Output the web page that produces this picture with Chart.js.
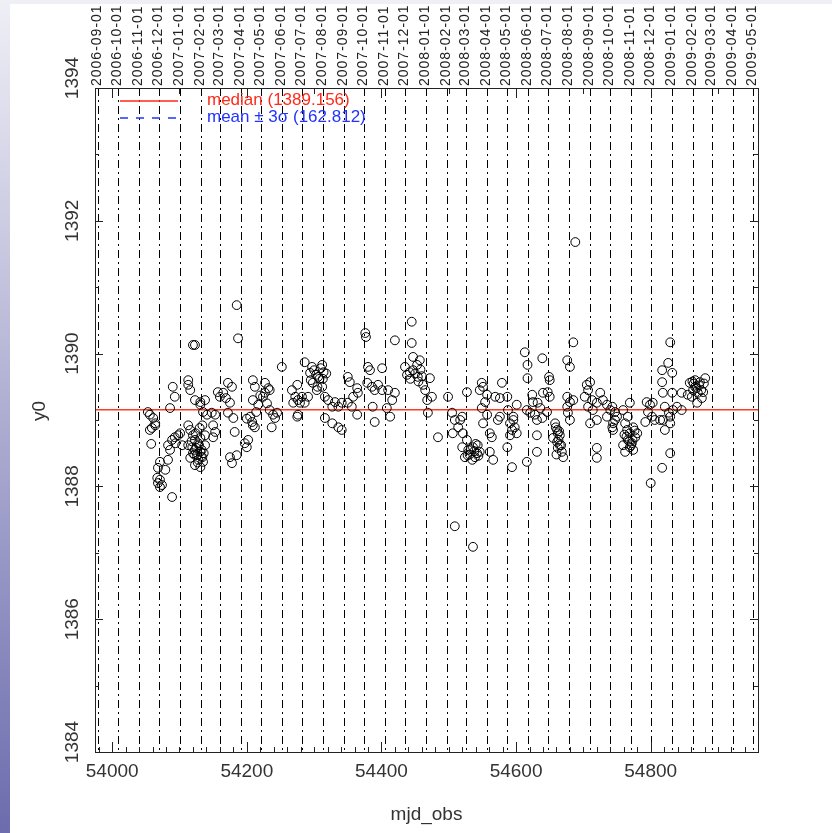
<!DOCTYPE html>
<html>
<head>
<meta charset="utf-8">
<script src="https://cdn.jsdelivr.net/npm/chart.js@4.4.1/dist/chart.umd.min.js"></script>
<style>
html, body { margin: 0; padding: 0; background: #fff; }
#wrap { position: relative; width: 832px; height: 833px; overflow: hidden; }
#strip { position: absolute; left: 0; top: 0; width: 10px; height: 833px; background: linear-gradient(#efeff6, #6c6cae); }
#band { position: absolute; left: 0; top: 0; width: 832px; height: 4px; background: #f0f0f4; }
canvas { position: absolute; left: 0; top: 0; }
</style>
</head>
<body>
<div id="wrap">
  <div id="strip"></div>
  <div id="band"></div>
  <canvas id="chart" width="832" height="833"></canvas>
</div>
<script>
/* data */
const mjdObs = [
  54056,54061,54064,54059,54056,54064,54058,54053,
  54083,54071,54068,54067,54068,54071,54074,54071,54079,54089,
  54083,54089,54093,54098,54101,54094,54104,54086,
  54090,54093,54086,54113,54113,54116,54120,54123,
  54113,54116,54120,54123,54128,54119,54123,54131,54126,54134,54116,54128,54135,54123,54131,54138,54138,54113,54120,54131,
  54125,54129,54133,54122,54127,54118,54132,54136,54124,54130,
  54123,54131,54138,54131,54135,54141,54148,54153,54134,54150,54153,54150,
  54157,54160,54165,54169,54172,54178,54175,54172,54180,54185,54187,54182,54175,54178,54185,
  54197,54200,54202,54205,54208,54209,54212,54209,54212,54209,54217,54227,54232,54227,54234,54224,54234,54239,54245,54242,54237,54252,54267,54272,54269,54276,54275,
  54200,54214,54220,54230,
  54275,54282,54279,54276,54286,54297,54312,54294,54306,54314,54298,54312,54304,54291,54286,
  54300,54303,54308,54310,54295,54318,54305,54313,
  54316,54321,54331,54336,54341,54327,54316,54327,54336,54341,
  54350,54353,54364,54358,54365,54350,54356,54364,54376,54377,
  54380,54383,54379,54386,54390,54395,54401,54387,54390,54401,54410,54416,54420,54408,54413,54420,
  54435,54442,54447,54454,54453,54457,54447,54445,54445,54462,54465,54472,54475,54468,54469,
  54438,54450,54458,54443,54455,54460,
  54499,54505,54509,54514,54520,54506,54484,54509,
  54517,54521,54527,54520,54529,54536,54542,54539,54535,54524,54543,54546,54527,
  54531,54533,54538,54544,54540,54528,
  54549,54551,54546,54557,54554,54549,54557,54551,54561,54564,54561,54566,
  54569,54576,54587,54579,54576,54573,54587,54594,54588,54596,54591,54598,54594,54591,54601,54596,54601,
  54613,54617,54617,54616,54639,54616,54621,54628,54624,54625,54632,54636,54631,54639,54646,54640,54647,54650,54631,54631,54649,54650,
  54658,54661,54662,54665,54661,54665,54668,54670,54662,54655,
  54659,54663,54667,54660,54664,
  54676,54680,54676,54677,54680,54685,54676,54680,54685,54688,
  54705,54710,54707,54702,54713,54707,54714,54720,54725,54729,54735,54740,54743,54747,54750,54744,54710,54720,54735,54744,54720,54720,54536,
  54747,54743,54759,54769,54766,54762,54765,54769,54774,54766,54772,54777,54762,54769,54774,54780,54759,
  54764,54768,54771,54776,54761,54773,
  54794,54799,54803,54796,54802,54792,54806,54800,
  54829,54826,54832,54817,54817,54818,54832,54821,54827,54818,54821,54829,54833,54839,54846,54829,54814,54829,54817,54846,
  54858,54866,54873,54881,54863,54870,54861,54876,54869,54878,54855,54866,
  54864,54868,54872,54875,54862,54879
];
const y0Values = [
  1389.08,1389.03,1388.95,1388.88,1388.85,1388.92,1388.64,1389.12,
  1388.40,1388.37,1388.28,1388.13,1388.05,1387.99,1388.02,1388.10,1388.25,1387.84,
  1388.62,1388.70,1388.74,1388.77,1388.80,1388.65,1388.62,1388.55,
  1389.50,1389.35,1389.18,1389.60,1389.53,1389.45,1390.13,1390.13,
  1388.92,1388.85,1388.77,1388.70,1388.65,1388.59,1388.55,1388.52,1388.47,1388.44,1388.43,1388.40,1388.37,1388.32,1388.29,1388.62,1388.77,1388.62,1388.50,1388.73,
  1388.58,1388.62,1388.55,1388.48,1388.36,1388.68,1388.45,1388.50,1388.80,1388.88,
  1389.30,1389.27,1389.30,1389.23,1389.12,1389.08,1389.11,1389.08,1388.92,1388.92,1388.82,1388.74,
  1389.42,1389.35,1389.41,1389.33,1389.56,1389.50,1389.26,1389.11,1389.03,1390.73,1390.23,1388.82,1388.44,1388.35,1388.47,
  1388.65,1388.59,1388.70,1389.05,1388.97,1388.92,1388.89,1389.60,1389.50,1389.30,1389.23,1389.56,1389.48,1389.41,1389.45,1389.35,1389.15,1389.08,1389.11,1389.03,1388.89,1389.80,1389.45,1389.35,1389.26,1389.30,1389.05,
  1389.02,1389.12,1389.37,1389.25,
  1389.53,1389.35,1389.26,1389.08,1389.87,1389.80,1389.83,1389.71,1389.65,1389.72,1389.56,1389.50,1389.45,1389.35,1389.26,
  1389.75,1389.68,1389.62,1389.78,1389.60,1389.70,1389.50,1389.62,
  1389.35,1389.30,1389.27,1389.20,1389.26,1389.20,1389.03,1388.95,1388.89,1388.85,
  1389.65,1389.57,1389.48,1389.35,1389.41,1389.26,1389.20,1389.08,1390.31,1390.25,
  1389.80,1389.75,1389.56,1389.50,1389.45,1389.53,1389.45,1389.20,1388.97,1389.78,1389.45,1389.30,1389.41,1389.18,1389.05,1390.20,
  1389.80,1389.72,1389.75,1389.65,1389.83,1389.90,1389.95,1390.48,1390.16,1389.53,1389.45,1389.63,1389.35,1389.30,1389.11,
  1389.68,1389.70,1389.76,1389.62,1389.58,1389.66,
  1389.35,1389.11,1389.00,1388.89,1389.05,1388.80,1388.74,1387.40,
  1389.00,1388.80,1388.70,1388.59,1388.55,1388.59,1388.50,1388.44,1388.40,1388.44,1388.62,1388.52,1389.42,
  1388.48,1388.56,1388.53,1388.46,1388.64,1388.47,
  1389.56,1389.50,1389.45,1389.38,1389.27,1389.18,1389.08,1388.95,1388.80,1388.74,1388.52,1388.40,
  1389.35,1389.33,1389.35,1389.56,1389.05,1389.00,1388.59,1388.29,1389.15,1389.05,1388.95,1388.89,1388.85,1388.77,1388.80,1389.00,1389.23,
  1390.02,1389.83,1389.63,1388.37,1389.93,1389.15,1389.11,1389.08,1389.38,1389.27,1389.26,1389.18,1389.00,1389.03,1389.12,1389.41,1389.42,1389.35,1388.77,1388.52,1389.65,1389.60,
  1388.95,1388.85,1388.80,1388.77,1388.67,1388.62,1388.52,1388.44,1388.58,1388.73,
  1388.89,1388.70,1388.62,1388.48,1388.83,
  1389.35,1389.27,1389.20,1389.11,1389.00,1389.30,1389.90,1389.80,1390.17,1391.68,
  1389.53,1389.57,1389.45,1389.35,1389.30,1389.20,1389.15,1389.26,1389.41,1389.30,1389.23,1389.15,1389.20,1389.12,1389.05,1388.95,1388.95,1389.00,1389.05,1388.85,1388.58,1388.43,1387.09,
  1389.00,1388.89,1389.15,1389.26,1389.05,1388.95,1388.85,1388.80,1388.89,1388.70,1388.65,1388.74,1388.52,1388.59,1388.55,1388.80,1388.62,
  1388.75,1388.68,1388.62,1388.84,1388.78,1388.70,
  1389.27,1389.23,1389.26,1389.12,1389.05,1388.97,1389.00,1388.05,
  1390.17,1389.86,1389.71,1389.75,1389.57,1389.41,1389.41,1389.20,1389.11,1389.00,1388.85,1389.05,1389.15,1389.20,1389.15,1388.95,1389.00,1388.50,1388.28,1389.41,
  1389.56,1389.60,1389.57,1389.63,1389.45,1389.41,1389.35,1389.33,1389.26,1389.42,1389.38,1389.50,
  1389.55,1389.48,1389.52,1389.45,1389.58,1389.55
];

const monthLabels = [
  '2006-09-01','2006-10-01','2006-11-01','2006-12-01',
  '2007-01-01','2007-02-01','2007-03-01','2007-04-01','2007-05-01','2007-06-01',
  '2007-07-01','2007-08-01','2007-09-01','2007-10-01','2007-11-01','2007-12-01',
  '2008-01-01','2008-02-01','2008-03-01','2008-04-01','2008-05-01','2008-06-01',
  '2008-07-01','2008-08-01','2008-09-01','2008-10-01','2008-11-01','2008-12-01',
  '2009-01-01','2009-02-01','2009-03-01','2009-04-01','2009-05-01'
];
const xTickLabels = [54000, 54200, 54400, 54600, 54800];
const yTickLabels = [1384, 1386, 1388, 1390, 1392, 1394];
const medianValue = 1389.156;
const sigmaValue = 162.812;

const X_MIN = 53974.5, X_MAX = 54959.4;
const FONT = '"Liberation Sans", Arial, sans-serif';

// date string -> MJD
function toMjd(s) {
    const [y, m, d] = s.split('-').map(Number);
    return Date.UTC(y, m - 1, d) / 86400000 + 40587;
}

/*month lines under the points*/
const monthLines = {
    id: 'monthLines',
    beforeDatasetsDraw(chart) {
        const {ctx, chartArea: a, scales: {x}} = chart;
        ctx.save();
        ctx.strokeStyle = '#000';
        ctx.lineWidth = 1;
        ctx.setLineDash([8, 4, 2, 4]);
        monthLabels.forEach((lab) => {
            const px = Math.round(x.getPixelForValue(toMjd(lab))) + 0.5;
            ctx.beginPath();
            ctx.moveTo(px, a.top);
            ctx.lineTo(px, a.bottom);
            ctx.stroke();
        });
        ctx.restore();
    }
};

/*frame, ticks, labels, legend*/
const decor = {
    id: 'decor',
    afterDraw(chart) {
        const {ctx, chartArea: a, scales: {x, y}} = chart;
        ctx.save();
        ctx.strokeStyle = '#222';
        ctx.lineWidth = 1;
        ctx.setLineDash([]);
        ctx.strokeRect(a.left + 0.5, a.top + 0.5, a.right - a.left, a.bottom - a.top);

        // y ticks left + right
        ctx.beginPath();
        for (let v = 1384; v <= 1394; v++) {
            const py = Math.round(y.getPixelForValue(v)) + 0.5;
            const len = (v % 2 === 0) ? 8 : 4;
            ctx.moveTo(a.left, py); ctx.lineTo(a.left + len, py);
            ctx.moveTo(a.right, py); ctx.lineTo(a.right - len, py);
        }
        // x ticks bottom
        for (let v = 53980; v <= 54959; v += 20) {
            const px = Math.round(x.getPixelForValue(v)) + 0.5;
            const len = (v % 200 === 0) ? 10 : 5;
            ctx.moveTo(px, a.bottom); ctx.lineTo(px, a.bottom - len);
        }
        // x ticks top
        for (let v = 54000; v <= 54959; v += 100) {
            const px = Math.round(x.getPixelForValue(v)) + 0.5;
            const len = (v % 200 === 0) ? 10 : 6;
            ctx.moveTo(px, a.top); ctx.lineTo(px, a.top + len);
        }
        ctx.stroke();

        // bottom tick labels
        ctx.fillStyle = '#333';
        ctx.font = '19px ' + FONT;
        ctx.textAlign = 'center';
        ctx.textBaseline = 'middle';
        xTickLabels.forEach((v) => {
            ctx.fillText(String(v), x.getPixelForValue(v), 772);
        });

        // y tick labels, rotated
        yTickLabels.forEach((v) => {
            let py = y.getPixelForValue(v);
            if (v === 1384 || v === 1394) py -= 10;
            ctx.save();
            ctx.translate(73, py);
            ctx.rotate(-Math.PI / 2);
            ctx.fillText(String(v), 0, 0);
            ctx.restore();
        });

        // axis titles
        ctx.fillText('mjd_obs', (a.left + a.right) / 2, 815);
        ctx.save();
        ctx.translate(40, 411);
        ctx.rotate(-Math.PI / 2);
        ctx.fillText('y0', 0, 0);
        ctx.restore();

        // top date labels
        ctx.font = '14px ' + FONT;
        ctx.letterSpacing = '1px';
        ctx.fillStyle = '#222';
        ctx.textAlign = 'left';
        ctx.textBaseline = 'alphabetic';
        monthLabels.forEach((lab) => {
            const px = x.getPixelForValue(toMjd(lab));
            ctx.save();
            ctx.translate(px + 3, a.top - 2);
            ctx.rotate(-Math.PI / 2);
            ctx.fillText(lab, 0, 0);
            ctx.restore();
        });
        ctx.letterSpacing = '0px';

        // legend
        ctx.lineWidth = 1.5;
        ctx.strokeStyle = '#ff2a1a';
        ctx.beginPath(); ctx.moveTo(120, 101); ctx.lineTo(178, 101); ctx.stroke();
        ctx.strokeStyle = '#2233ff';
        ctx.setLineDash([8, 8]);
        ctx.beginPath(); ctx.moveTo(120, 118); ctx.lineTo(178, 118); ctx.stroke();
        ctx.setLineDash([]);
        ctx.font = '17px ' + FONT;
        ctx.textBaseline = 'middle';
        ctx.fillStyle = '#ff2a1a';
        ctx.fillText('median (' + medianValue.toFixed(3) + ')', 207, 100);
        ctx.fillStyle = '#2233ff';
        ctx.fillText('mean \u00b1 3\u03c3 (' + sigmaValue.toFixed(3) + ')', 207, 117);
        ctx.restore();
    }
};

const points = mjdObs.map((m, i) => ({x: m, y: y0Values[i]}));

new Chart(document.getElementById('chart'), {
    type: 'scatter',
    data: {
        datasets: [{
            label: 'y0',
            data: points,
            pointStyle: 'circle',
            pointRadius: 4.4,
            borderColor: '#000',
            borderWidth: 1,
            backgroundColor: 'rgba(0,0,0,0)'
        },
        {
            type: 'line',
            label: 'median',
            data: [{x: X_MIN, y: medianValue}, {x: X_MAX, y: medianValue}],
            borderColor: '#ff3a22',
            borderWidth: 1.5,
            pointRadius: 0,
            fill: false
        }]
    },
    options: {
        responsive: false,
        animation: false,
        layout: { padding: { left: 95, right: 74, top: 88, bottom: 81 } },
        scales: {
            x: { type: 'linear', min: X_MIN, max: X_MAX, display: false },
            y: { type: 'linear', min: 1384, max: 1394, display: false }
        },
        plugins: {
            legend: { display: false },
            tooltip: { enabled: false }
        }
    },
    plugins: [monthLines, decor]
});
</script>
</body>
</html>
